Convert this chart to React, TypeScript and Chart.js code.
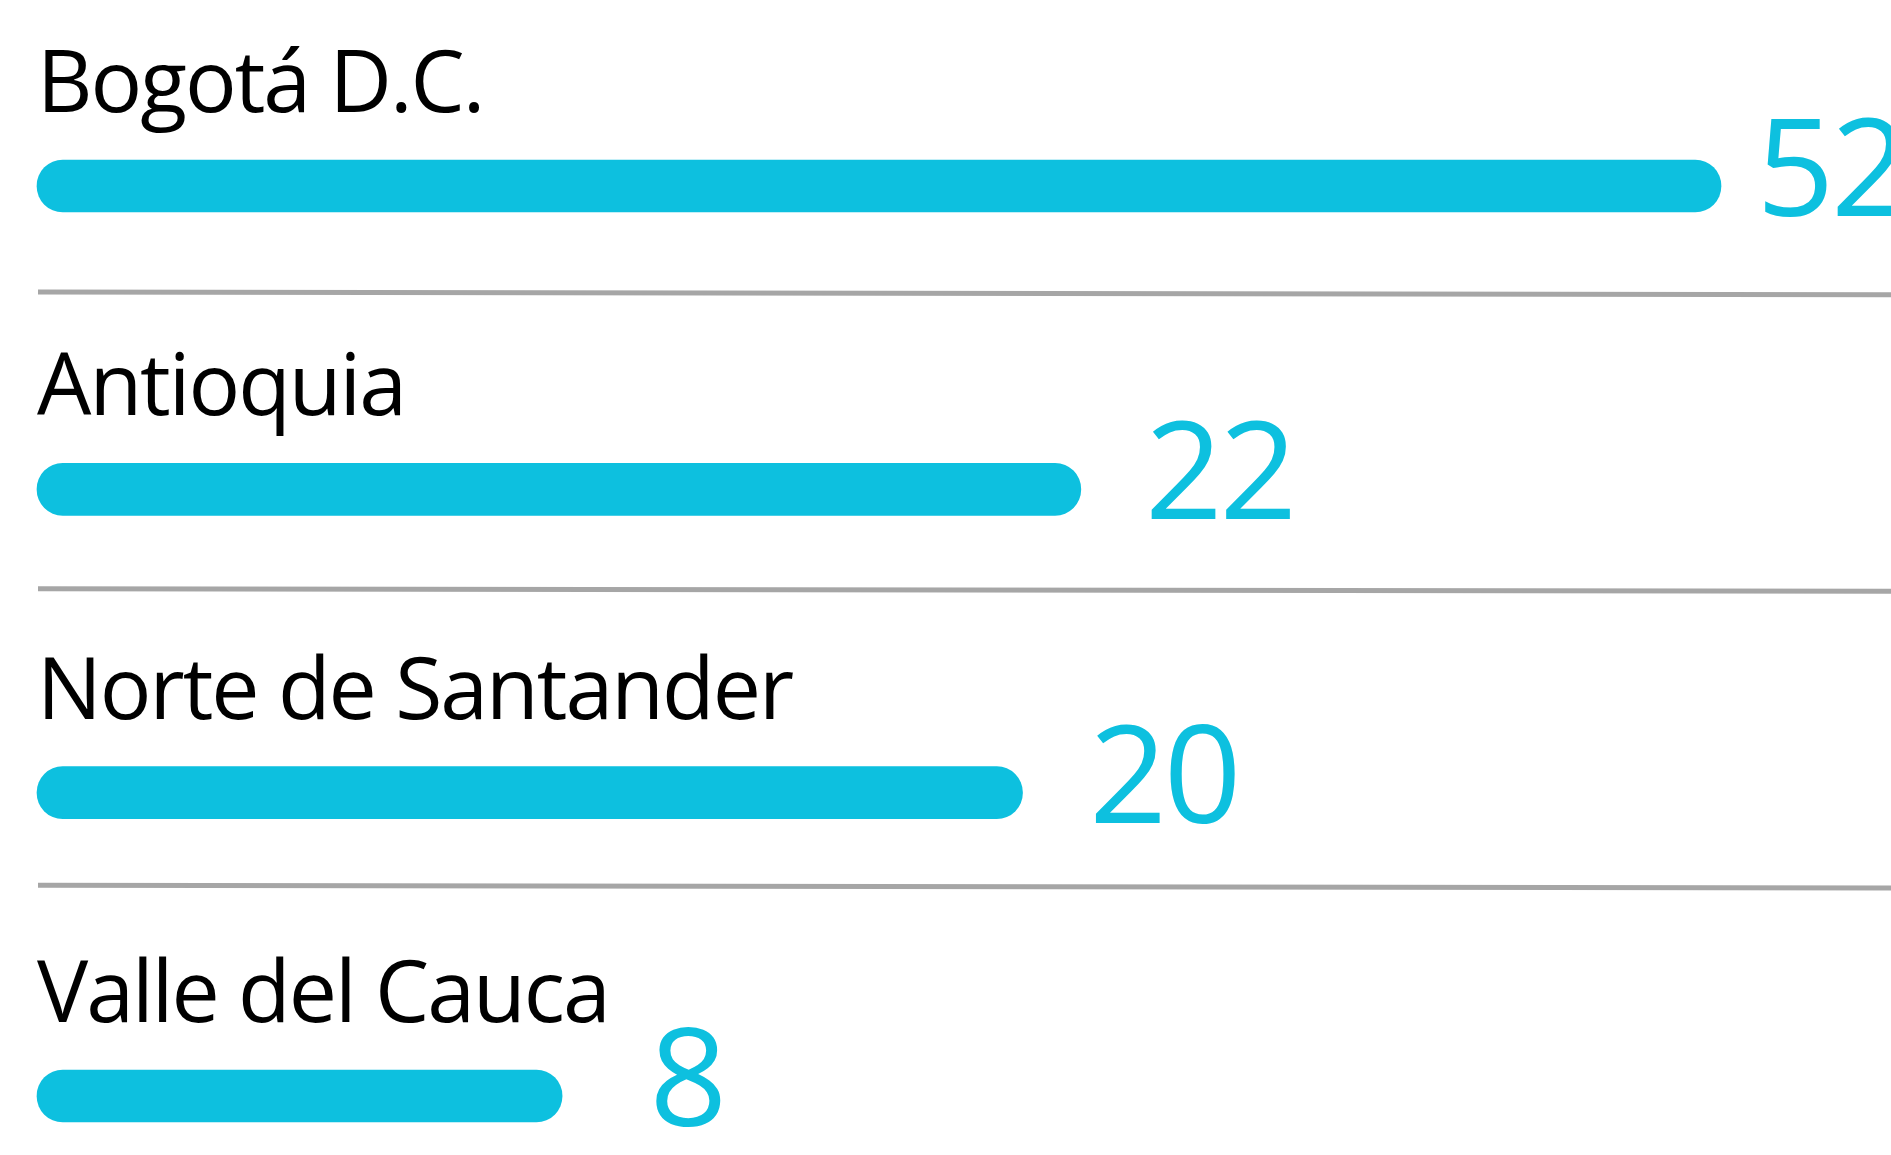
import React, { useEffect, useRef } from 'react';
import { Chart, registerables, LinearScale } from 'chart.js';

Chart.register(...registerables);

// ---- data ----
const categories = ['Bogotá D.C.', 'Antioquia', 'Norte de Santander', 'Valle del Cauca'];
const values = [52, 22, 20, 8];
const valueLabels = ['52', '22', '20', '8'];

// ---- styles ----
const BAR_COLOR = '#0DC0DF';
const LABEL_COLOR = '#000000';
const RULE_COLOR = '#a6a6a6';
const FONT = '"Open Sans", "Noto Sans", sans-serif';
const WIDTH = 1891;
const HEIGHT = 1155;
const AXIS_EXPONENT = 0.4;

// Power value axis (like d3.scalePow), so bar lengths follow the infographic.
class PowScale extends LinearScale {
  static id = 'pow';
  static defaults = { ...(LinearScale as any).defaults };
  _t(v: number) {
    return Math.pow(Math.max(v, 0), AXIS_EXPONENT);
  }
  getPixelForValue(value: any) {
    if (value === null || value === undefined || isNaN(value)) return NaN;
    const me: any = this;
    const lo = this._t(me.min);
    const hi = this._t(me.max);
    const v = this._t(Math.max(value, me.min));
    return me.getPixelForDecimal((v - lo) / (hi - lo));
  }
  getValueForPixel(pixel: number) {
    const me: any = this;
    const lo = this._t(me.min);
    const hi = this._t(me.max);
    const s = lo + me.getDecimalForPixel(pixel) * (hi - lo);
    return Math.pow(s, 1 / AXIS_EXPONENT);
  }
}
Chart.register(PowScale as any);

const overlayPlugin = {
  id: 'overlay',
  afterDatasetsDraw(chart: any) {
    const ctx = chart.ctx as any;
    const bars = chart.getDatasetMeta(0).data;
    const left = chart.chartArea.left;
    const step = bars.length > 1 ? bars[1].y - bars[0].y : 0;
    ctx.save();
    // separator rules
    ctx.strokeStyle = RULE_COLOR;
    ctx.lineWidth = 5;
    for (let i = 0; i < bars.length - 1; i++) {
      const y = bars[0].y + 106 + i * step * 0.978;
      ctx.beginPath();
      ctx.moveTo(left + 1, y);
      ctx.lineTo(chart.width, y + 2.7);
      ctx.stroke();
    }
    // category labels
    ctx.textAlign = 'left';
    ctx.textBaseline = 'alphabetic';
    ctx.fillStyle = LABEL_COLOR;
    ctx.font = `86px ${FONT}`;
    ctx.letterSpacing = '-2px';
    bars.forEach((b: any, i: number) => ctx.fillText(categories[i], left, b.y - 74));
    // value labels
    ctx.fillStyle = BAR_COLOR;
    ctx.font = `136px ${FONT}`;
    ctx.letterSpacing = '-3.4px';
    bars.forEach((b: any, i: number) => {
      const gap = 111 - 0.0448 * (b.x - left);
      ctx.fillText(valueLabels[i], b.x + gap, b.y + 30);
    });
    ctx.restore();
  },
};

export default function App() {
  const ref = useRef<HTMLCanvasElement | null>(null);
  useEffect(() => {
    document.body.style.margin = '0';
    let chart: Chart | null = null;
    let cancelled = false;
    const make = () => {
      if (cancelled || !ref.current) return;
      chart = new Chart(ref.current, {
        type: 'bar',
        data: {
          labels: categories,
          datasets: [
            {
              data: values,
              backgroundColor: BAR_COLOR,
              borderWidth: 0,
              borderRadius: 100,
              borderSkipped: false,
              barThickness: 52,
              clip: false as any,
            },
          ],
        },
        options: {
          indexAxis: 'y',
          animation: false,
          responsive: false,
          devicePixelRatio: 1,
          layout: { padding: { left: 37, right: 170, top: 186, bottom: 59 } },
          plugins: { legend: { display: false }, tooltip: { enabled: false } },
          scales: {
            x: { type: 'pow' as any, min: 1.38, max: 52, bounds: 'data', display: false },
            y: { type: 'category', offset: false, display: false },
          },
        },
        plugins: [overlayPlugin],
      });
    };
    const fonts = (document as any).fonts;
    if (fonts && fonts.load) {
      Promise.all([fonts.load(`86px "Open Sans"`), fonts.load(`136px "Open Sans"`)])
        .catch(() => {})
        .then(make);
    } else make();
    return () => {
      cancelled = true;
      if (chart) chart.destroy();
    };
  }, []);
  return (
    <div style={{ width: WIDTH, height: HEIGHT, background: '#fff' }}>
      <canvas ref={ref} width={WIDTH} height={HEIGHT} style={{ display: 'block' }} />
    </div>
  );
}
